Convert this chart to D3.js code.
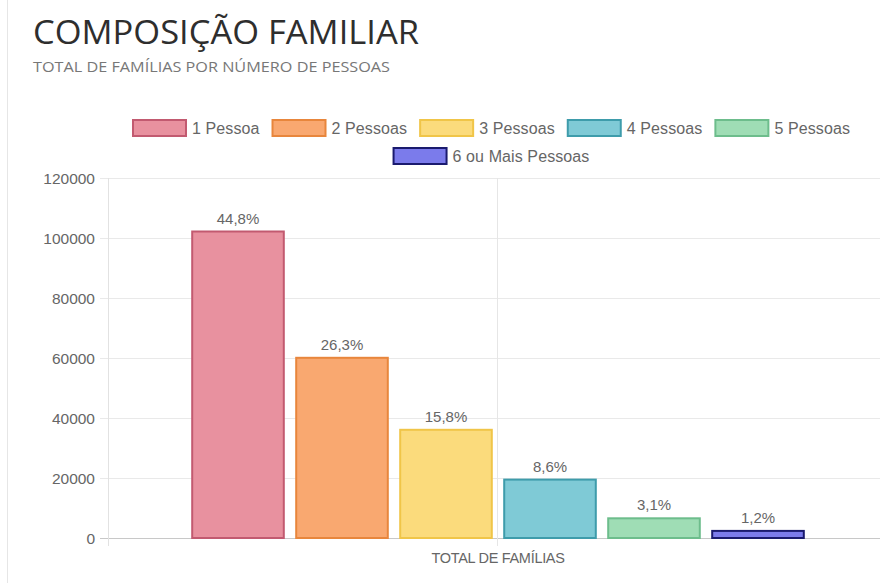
<!DOCTYPE html>
<html>
<head>
<meta charset="utf-8">
<script src="https://cdn.jsdelivr.net/npm/d3@7"></script>
<style>
  html, body { margin: 0; padding: 0; background: #fff; }
  svg { display: block; }
</style>
</head>
<body>
<svg id="chart" width="880" height="583"></svg>
<script>
// ---- data ----
const category = "TOTAL DE FAMÍLIAS";
const seriesNames = ["1 Pessoa", "2 Pessoas", "3 Pessoas", "4 Pessoas", "5 Pessoas", "6 ou Mais Pessoas"];
const seriesValues = [102500, 60400, 36400, 19800, 6900, 2700];
const seriesLabels = ["44,8%", "26,3%", "15,8%", "8,6%", "3,1%", "1,2%"];
const yTicks = [0, 20000, 40000, 60000, 80000, 100000, 120000];
const fillColors = ["#E8919F", "#F9A870", "#FBDB7C", "#7FCAD6", "#9FDDB5", "#7B7BEB"];
const strokeColors = ["#C25A70", "#E8863C", "#F0C548", "#3E9CAB", "#6DBD8C", "#1A1A6E"];

const svg = d3.select("#chart");

// card left edge
svg.append("line").attr("x1", 7.5).attr("x2", 7.5).attr("y1", 0).attr("y2", 583)
  .attr("stroke", "#e6e6e6").attr("stroke-width", 1);

// title
svg.append("text").attr("x", 33).attr("y", 44)
  .attr("font-family", "Open Sans").attr("font-size", 33).attr("fill", "#2e2e2e")
  .attr("textLength", 386).attr("lengthAdjust", "spacingAndGlyphs")
  .text("COMPOSIÇÃO FAMILIAR");
svg.append("text").attr("x", 33).attr("y", 72)
  .attr("font-family", "Open Sans").attr("font-size", 14.5).attr("fill", "#777")
  .attr("textLength", 357).attr("lengthAdjust", "spacingAndGlyphs")
  .text("TOTAL DE FAMÍLIAS POR NÚMERO DE PESSOAS");

// scales
const plotLeft = 108, plotRight = 888, plotTop = 178, plotBottom = 538;
const y = d3.scaleLinear().domain([0, 120000]).range([plotBottom, plotTop]);
const x0 = d3.scaleBand().domain([category]).range([plotLeft, plotRight]).paddingInner(0).paddingOuter(0);
const catW = x0.bandwidth();
const x1 = d3.scaleBand().domain(seriesNames)
  .range([x0(category) + catW * 0.1, x0(category) + catW * 0.9])
  .paddingInner(0.1).paddingOuter(0.05);

// grid
const g = svg.append("g");
yTicks.forEach(t => {
  g.append("line").attr("x1", plotLeft - 8).attr("x2", 880)
    .attr("y1", Math.round(y(t)) + 0.5).attr("y2", Math.round(y(t)) + 0.5)
    .attr("stroke", t === 0 ? "#c8c8c8" : "#e9e9e9").attr("stroke-width", 1);
});
g.append("line").attr("x1", plotLeft + 0.5).attr("x2", plotLeft + 0.5).attr("y1", plotTop).attr("y2", plotBottom + 8)
  .attr("stroke", "#e2e2e2");
const cx = x0(category) + catW / 2;
g.append("line").attr("x1", Math.round(cx) - 0.5).attr("x2", Math.round(cx) - 0.5).attr("y1", plotTop).attr("y2", plotBottom + 8)
  .attr("stroke", "#e6e6e6");

// y axis labels via d3 axis
const yAxis = d3.axisLeft(y).tickValues(yTicks).tickSize(0).tickPadding(0).tickFormat(d3.format("d"));
const ya = svg.append("g").attr("transform", `translate(${plotLeft - 13},0.5)`).call(yAxis);
ya.select(".domain").remove();
ya.selectAll("text").attr("font-family", "Liberation Sans, Arial").attr("font-size", 15.5)
  .attr("fill", "#666").attr("dy", "0.35em");

// x axis label
const xAxis = d3.axisBottom(x0).tickSize(0).tickPadding(0);
const xa = svg.append("g").attr("transform", `translate(0,${plotBottom + 25})`).call(xAxis);
xa.select(".domain").remove();
xa.selectAll("text").attr("font-family", "Liberation Sans, Arial").attr("font-size", 14.5)
  .attr("fill", "#666").attr("dy", 0).attr("letter-spacing", "-0.3");

// bars
const bars = svg.append("g");
seriesNames.forEach((s, i) => {
  const bx = x1(s), bw = x1.bandwidth();
  const by = y(seriesValues[i]);
  bars.append("rect").attr("x", bx + 1).attr("y", by + 1)
    .attr("width", bw - 2).attr("height", y(0) - by - 1)
    .attr("fill", fillColors[i]).attr("stroke", strokeColors[i]).attr("stroke-width", 2);
  bars.append("text").attr("x", bx + bw / 2).attr("y", by - 7)
    .attr("text-anchor", "middle").attr("font-family", "Liberation Sans, Arial")
    .attr("font-size", 15).attr("fill", "#666").text(seriesLabels[i]);
});

// legend
const legend = svg.append("g");
const boxW = 53, boxH = 16, gapText = 7, gapItem = 12, legendCenter = 491;
const rows = [[0, 1, 2, 3, 4], [5]];
const rowY = [128, 156];
rows.forEach((row, ri) => {
  const items = row.map(i => {
    const t = legend.append("text").attr("font-family", "Liberation Sans, Arial")
      .attr("font-size", 16).attr("fill", "#666").attr("dy", "0.35em").attr("y", rowY[ri])
      .attr("letter-spacing", "0.1").text(seriesNames[i]);
    return { i, t, w: t.node().getComputedTextLength() };
  });
  const total = d3.sum(items, d => boxW + gapText + d.w) + gapItem * (items.length - 1);
  let cur = legendCenter - total / 2;
  items.forEach(d => {
    legend.append("rect").attr("x", cur + 1).attr("y", rowY[ri] - boxH / 2)
      .attr("width", boxW).attr("height", boxH)
      .attr("fill", fillColors[d.i]).attr("stroke", strokeColors[d.i]).attr("stroke-width", 2);
    d.t.attr("x", cur + boxW + gapText);
    cur += boxW + gapText + d.w + gapItem;
  });
});
</script>
</body>
</html>
